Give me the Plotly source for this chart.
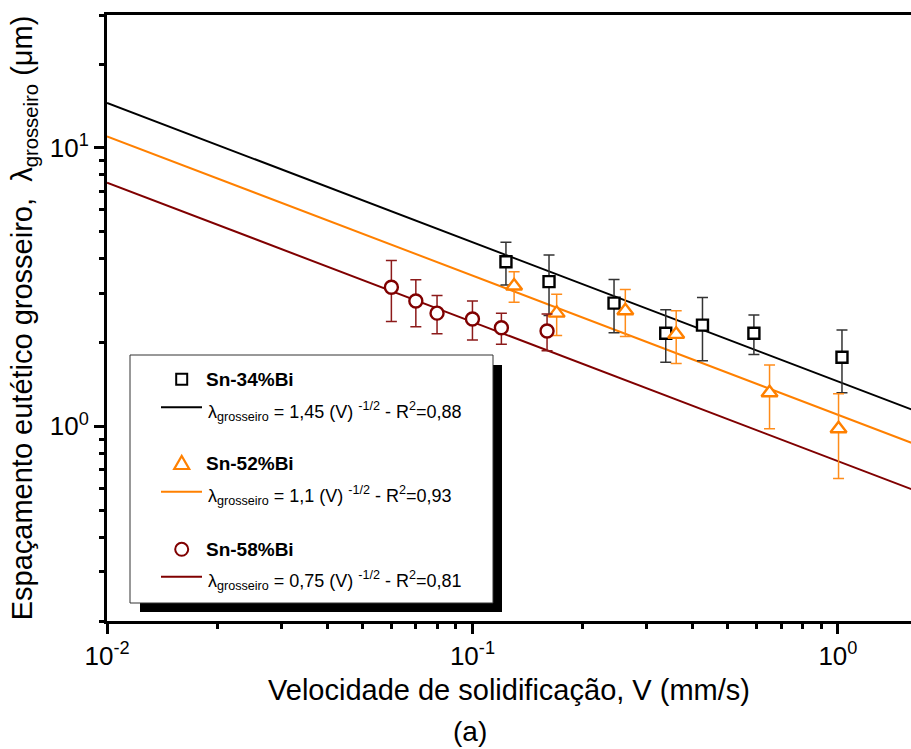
import numpy as np
import plotly.graph_objects as go

# Measured coarse eutectic spacing vs. solidification velocity
v_34 = [0.1235, 0.162, 0.244, 0.338, 0.426, 0.589, 1.026]
lam_34 = [3.90, 3.31, 2.77, 2.16, 2.31, 2.16, 1.77]
err_34 = [0.68, 0.81, 0.60, 0.46, 0.59, 0.35, 0.45]

v_52 = [0.130, 0.170, 0.262, 0.361, 0.650, 1.004]
lam_52 = [3.19, 2.55, 2.60, 2.14, 1.32, 0.98]
err_52 = [0.40, 0.43, 0.50, 0.46, 0.34, 0.33]

v_58 = [0.060, 0.070, 0.080, 0.100, 0.120, 0.160]
lam_58 = [3.16, 2.82, 2.55, 2.43, 2.26, 2.20]
err_58 = [0.78, 0.54, 0.40, 0.39, 0.29, 0.33]

# Power-law fits: lambda = a * V^(-1/2)
alloys = ["Sn-34%Bi", "Sn-52%Bi", "Sn-58%Bi"]
fit_coef = [1.45, 1.1, 0.75]
fit_coef_text = ["1,45", "1,1", "0,75"]
fit_r2 = ["0,88", "0,93", "0,81"]
colors = ["#000000", "#FF8000", "#800000"]
err_colors = ["#333333", "#FF8C1A", "#8C1A1A"]

x_tickvals = [0.01, 0.1, 1]
x_ticktext = ["10<sup>-2</sup>", "10<sup>-1</sup>", "10<sup>0</sup>"]
y_tickvals = [1, 10]
y_ticktext = ["10<sup>0</sup>", "10<sup>1</sup>"]
x_minor = [m * d for d in (0.01, 0.1) for m in range(2, 10)]
y_minor = [m * d for d in (0.1, 1, 10) for m in range(2, 10)]

FONT = "Liberation Sans, Arial, sans-serif"
W_FIG, H_FIG = 911, 749
M_L, M_R, M_T, M_B = 107, 0, 15, 128
PW = W_FIG - M_L - M_R
PH = H_FIG - M_T - M_B


def px(x):
    return (x - M_L) / PW


def py(y):
    return (M_T + PH - y) / PH


fig = go.Figure()

# fitted lines, drawn beneath the data
fit_v = np.logspace(-2, 0.25, 60)
for a, c in zip(fit_coef, colors):
    fig.add_trace(go.Scatter(x=fit_v, y=a * fit_v ** -0.5, mode="lines",
                             line=dict(color=c, width=2), showlegend=False,
                             hoverinfo="skip"))

series = [
    (v_34, lam_34, err_34, "square", 11, colors[0], err_colors[0]),
    (v_52, lam_52, err_52, "triangle-up", 14, colors[1], err_colors[1]),
    (v_58, lam_58, err_58, "circle", 13, colors[2], err_colors[2]),
]
for (v, lam, err, sym, size, c, ec), name in zip(series, alloys):
    fig.add_trace(go.Scatter(
        x=v, y=lam, mode="markers", name=name, showlegend=False,
        marker=dict(symbol=sym, size=size, color="white",
                    line=dict(color=c, width=2.4)),
        error_y=dict(type="data", array=err, color=ec, thickness=1.5, width=5.5),
    ))

# framed legend with drop shadow
shapes = [
    dict(type="rect", xref="paper", yref="paper", x0=px(140), x1=px(502),
         y0=py(612), y1=py(365), fillcolor="black", line=dict(width=0), layer="above"),
    dict(type="rect", xref="paper", yref="paper", x0=px(130), x1=px(493),
         y0=py(603), y1=py(355), fillcolor="white", line=dict(color="#333333", width=1),
         layer="above"),
]
annotations = []
rows = [379.3, 463.0, 549.3]
line_rows = [407.3, 491.7, 576.7]
mx = 181.7
for i, (name, a_txt, r2, c) in enumerate(zip(alloys, fit_coef_text, fit_r2, colors)):
    yc = rows[i]
    if i == 0:
        shapes.append(dict(type="rect", xref="paper", yref="paper",
                           x0=px(mx - 5.5), x1=px(mx + 5.5), y0=py(yc + 5.5), y1=py(yc - 5.5),
                           fillcolor="white", line=dict(color=c, width=2), layer="above"))
    elif i == 1:
        path = "M {} {} L {} {} L {} {} Z".format(px(mx - 7.5), py(yc + 6), px(mx + 7.5), py(yc + 6),
                                                  px(mx), py(yc - 7))
        shapes.append(dict(type="path", xref="paper", yref="paper", path=path,
                           fillcolor="white", line=dict(color=c, width=2.2), layer="above"))
    else:
        shapes.append(dict(type="circle", xref="paper", yref="paper",
                           x0=px(mx - 6.5), x1=px(mx + 6.5), y0=py(yc + 6.5), y1=py(yc - 6.5),
                           fillcolor="white", line=dict(color=c, width=2), layer="above"))
    annotations.append(dict(xref="paper", yref="paper", x=px(204), y=py(yc),
                            xanchor="left", yanchor="middle", showarrow=False,
                            text="<b>" + name + "</b>",
                            font=dict(family=FONT, size=19, color="black")))
    ly = line_rows[i]
    shapes.append(dict(type="line", xref="paper", yref="paper", x0=px(161), x1=px(202),
                       y0=py(ly), y1=py(ly), line=dict(color=c, width=2), layer="above"))
    annotations.append(dict(
        xref="paper", yref="paper", x=px(206), y=py(ly + 4),
        xanchor="left", yanchor="middle", showarrow=False,
        text="λ<sub>grosseiro</sub> = " + a_txt + " (V) <sup>-1/2</sup> - R<sup>2</sup>=" + r2,
        font=dict(family=FONT, size=18, color="black")))

annotations.append(dict(xref="paper", yref="paper", x=px(470), y=py(731),
                        xanchor="center", yanchor="middle", showarrow=False, text="(a)",
                        font=dict(family=FONT, size=28, color="black")))

axis_common = dict(
    type="log", showline=True, linewidth=3, linecolor="black", ticks="outside",
    ticklen=10, tickwidth=3, tickcolor="black", showgrid=False, zeroline=False,
    tickmode="array", tickfont=dict(family=FONT, size=26, color="black"),
)
fig.update_xaxes(
    **axis_common, range=[-2, 0.2], mirror=True,
    tickvals=x_tickvals, ticktext=x_ticktext,
    minor=dict(tickmode="array", tickvals=x_minor, ticks="outside", ticklen=5,
               tickwidth=2.5, tickcolor="black", showgrid=False),
    title=dict(text="Velocidade de solidificação, V (mm/s)", standoff=10,
               font=dict(family=FONT, size=29, color="black")),
)
fig.update_yaxes(
    **axis_common, range=[np.log10(0.2), np.log10(30)], mirror=False,
    tickvals=y_tickvals, ticktext=y_ticktext,
    minor=dict(tickmode="array", tickvals=y_minor, ticks="outside", ticklen=5,
               tickwidth=2.5, tickcolor="black", showgrid=False),
    title=dict(text="Espaçamento eutético grosseiro,  λ<sub>grosseiro</sub> (μm)", standoff=9,
               font=dict(family=FONT, size=29, color="black")),
)

fig.update_layout(
    width=W_FIG, height=H_FIG, autosize=False,
    margin=dict(l=M_L, r=M_R, t=M_T, b=M_B),
    paper_bgcolor="white", plot_bgcolor="white",
    font=dict(family=FONT, color="black"),
    shapes=shapes, annotations=annotations, showlegend=False,
)

fig.write_html("out.html")
